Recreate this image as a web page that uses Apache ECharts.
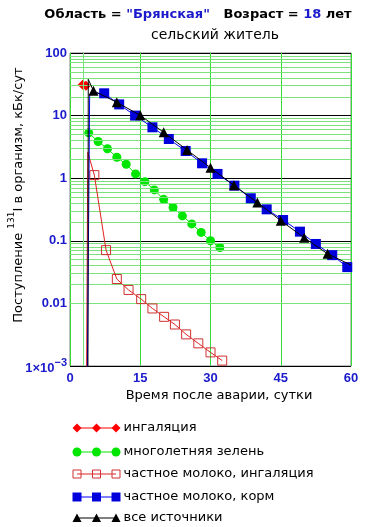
<!DOCTYPE html>
<html>
<head>
<meta charset="utf-8">
<script src="https://cdn.jsdelivr.net/npm/echarts@6/dist/echarts.min.js"></script>
<style>
  html, body { margin: 0; padding: 0; background: #fff; }
  #chart { width: 377px; height: 527px; }
</style>
</head>
<body>
<div id="chart"></div>
<script>
// данные
const seriesNames = ['ингаляция', 'многолетняя зелень', 'частное молоко, ингаляция', 'частное молоко, корм', 'все источники'];

const inhalDays = [2.7, 3.4];
const inhalValues = [31, 30];

const greensDays = [4, 6, 8, 10, 12, 14, 16, 18, 20, 22, 24, 26, 28, 30, 32];
const greensValues = [5.3, 3.85, 2.95, 2.16, 1.67, 1.17, 0.88, 0.65, 0.46, 0.34, 0.25, 0.186, 0.136, 0.1, 0.078];

// участок подъёма без маркеров
const milkInhalLeadDays = [3.4, 3.8];
const milkInhalLeadValues = [0.00001, 2.6];
const milkInhalDays = [5.2, 7.7, 10, 12.5, 15.2, 17.6, 20.1, 22.4, 24.8, 27.4, 30, 32.5];
const milkInhalValues = [1.12, 0.071, 0.0245, 0.0164, 0.0117, 0.0083, 0.0061, 0.0046, 0.0032, 0.0023, 0.00165, 0.00122];

const milkFeedLeadDays = [3.5, 4.2];
const milkFeedLeadValues = [0.00001, 22];
const milkFeedDays = [7.3, 10.5, 13.9, 17.6, 21.1, 24.7, 28.2, 31.5, 35.1, 38.6, 42, 45.5, 49.1, 52.5, 56, 59.2];
const milkFeedValues = [22.7, 15.1, 10, 6.5, 4.23, 2.72, 1.73, 1.17, 0.76, 0.478, 0.318, 0.215, 0.14, 0.089, 0.059, 0.038];

const totalLeadDays = [3.8, 3.9];
const totalLeadValues = [0.00001, 38];
const totalDays = [5, 10, 15, 20, 25, 30, 35, 40, 45, 50, 55];
const totalValues = [25, 16.3, 10.1, 5.4, 2.82, 1.47, 0.77, 0.41, 0.21, 0.112, 0.062];
const totalTailDays = [60];
const totalTailValues = [0.041];

const xTicks = [0, 15, 30, 45, 60];
const yDecades = [0.001, 0.01, 0.1, 1, 10, 100];
const extraVerticalDay = 2.8;

const FONT = 'Liberation Sans, Arial, sans-serif';
const TEXT_FONT = 'DejaVu Sans, sans-serif';
const BLUE_TXT = '#1a1acc';

const pts = (xs, ys) => xs.map((x, i) => [x, ys[i]]);
const bare = (xs, ys) => xs.map((x, i) => ({ value: [x, ys[i]], symbol: 'none' }));

// мелкие линии сетки 2..9 в каждой декаде
const minorLines = [];
for (let d = 0; d < yDecades.length - 1; d++) {
  for (let k = 2; k <= 9; k++) minorLines.push({ yAxis: k * yDecades[d] });
}

const chart = echarts.init(document.getElementById('chart'));

const styles = [
  { color: '#ff0000', symbol: 'diamond', size: 10, line: '#ff0000' },
  { color: '#00e600', symbol: 'circle', size: 9, line: '#00e600' },
  { color: 'rgba(0,0,0,0)', border: '#d03030', symbol: 'rect', size: 9, line: '#e02020' },
  { color: '#0000dd', symbol: 'rect', size: 10, line: '#0000ff' },
  { color: '#000000', symbol: 'triangle', size: 10, line: '#000000' }
];

const seriesData = [
  pts(inhalDays, inhalValues),
  pts(greensDays, greensValues),
  bare(milkInhalLeadDays, milkInhalLeadValues).concat(pts(milkInhalDays, milkInhalValues)),
  bare(milkFeedLeadDays, milkFeedLeadValues).concat(pts(milkFeedDays, milkFeedValues)),
  bare(totalLeadDays, totalLeadValues).concat(pts(totalDays, totalValues), bare(totalTailDays, totalTailValues))
];

const series = [{
  type: 'line',
  data: [],
  silent: true,
  z: 1,
  markLine: {
    silent: true,
    symbol: 'none',
    animation: false,
    label: { show: false },
    lineStyle: { color: '#7ce27c', width: 1, type: 'solid' },
    data: minorLines.concat([{ xAxis: extraVerticalDay }])
  }
}];
styles.forEach((s, i) => {
  series.push({
    name: seriesNames[i],
    type: 'line',
    data: seriesData[i],
    symbol: s.symbol,
    symbolSize: s.size,
    showAllSymbol: true,
    z: 3 + i,
    itemStyle: { color: s.color, borderColor: s.border || s.color, borderWidth: s.border ? 1 : 0 },
    lineStyle: { color: s.line, width: 1 }
  });
});

// легенда из графических элементов
const legendY = [428, 452, 474, 497, 518];
const legendXs = [77, 96.5, 116];
const legendEls = [];
styles.forEach((s, i) => {
  const y = legendY[i];
  legendEls.push({ type: 'line', shape: { x1: legendXs[0], y1: y, x2: legendXs[2], y2: y }, style: { stroke: s.line, lineWidth: 1 } });
  legendXs.forEach(x => {
    let el;
    if (s.symbol === 'diamond') el = { type: 'polygon', shape: { points: [[x, y - 4.5], [x + 4.5, y], [x, y + 4.5], [x - 4.5, y]] }, style: { fill: s.color } };
    else if (s.symbol === 'circle') el = { type: 'circle', shape: { cx: x, cy: y, r: 4.5 }, style: { fill: s.color } };
    else if (s.symbol === 'rect' && s.border) el = { type: 'rect', shape: { x: x - 4, y: y - 4, width: 8, height: 8 }, style: { fill: 'none', stroke: s.border, lineWidth: 1 } };
    else if (s.symbol === 'rect') el = { type: 'rect', shape: { x: x - 4.5, y: y - 4.5, width: 9, height: 9 }, style: { fill: s.color } };
    else el = { type: 'polygon', shape: { points: [[x, y - 4.5], [x + 4.5, y + 4], [x - 4.5, y + 4]] }, style: { fill: s.color } };
    legendEls.push(el);
  });
  legendEls.push({ type: 'text', x: 123.5, y: y, style: { text: seriesNames[i], font: '13px ' + TEXT_FONT, fill: '#000', verticalAlign: 'middle' } });
});

const option = {
  animation: false,
  grid: { left: 70, right: 26, top: 53, bottom: 161, show: true, borderColor: '#808080', borderWidth: 1 },
  xAxis: {
    type: 'value', min: 0, max: 60, interval: 15,
    axisLine: { show: false }, axisTick: { show: false },
    splitLine: { show: true, lineStyle: { color: '#33dd33', width: 1 } },
    axisLabel: {
      color: BLUE_TXT, fontWeight: 'bold', fontSize: 13, fontFamily: FONT, margin: 6,
      formatter: v => xTicks.includes(v) ? String(v) : ''
    }
  },
  yAxis: {
    type: 'log', logBase: 10, min: yDecades[0], max: yDecades[yDecades.length - 1],
    axisLine: { show: false }, axisTick: { show: false },
    splitLine: { show: true, lineStyle: { color: '#000', width: 1 } },
    axisLabel: {
      color: BLUE_TXT, fontWeight: 'bold', fontSize: 13, fontFamily: FONT, margin: 3,
      formatter: v => {
        const e = Math.round(Math.log10(v));
        if (e <= -3) return '{a|1×10}{s|−' + (-e) + '}';
        return e >= 0 ? String(Math.pow(10, e)) : (Math.pow(10, e)).toFixed(-e);
      },
      rich: {
        a: { color: BLUE_TXT, fontWeight: 'bold', fontSize: 13, fontFamily: FONT, lineHeight: 18, verticalAlign: 'bottom' },
        s: { color: BLUE_TXT, fontWeight: 'bold', fontSize: 11, fontFamily: FONT, lineHeight: 18, verticalAlign: 'top' }
      }
    }
  },
  graphic: [
    {
      type: 'text', x: 198, y: 15,
      style: {
        text: '{b|Область = }{q|"Брянская"}{b|   Возраст = }{q|18}{b| лет}',
        align: 'center', verticalAlign: 'middle',
        rich: {
          b: { fill: '#000', font: 'bold 13px ' + TEXT_FONT },
          q: { fill: BLUE_TXT, font: 'bold 13px ' + TEXT_FONT }
        }
      }
    },
    { type: 'text', x: 215, y: 35, style: { text: 'сельский житель', font: '14px ' + TEXT_FONT, fill: '#000', align: 'center', verticalAlign: 'middle' } },
    {
      type: 'text', x: 16, y: 195, rotation: Math.PI / 2,
      style: {
        text: '{n|Поступление }{s|131}{n|I в организм, кБк/сут}',
        align: 'center', verticalAlign: 'middle',
        rich: {
          n: { fill: '#000', font: '13px ' + TEXT_FONT, lineHeight: 18, verticalAlign: 'bottom' },
          s: { fill: '#000', font: '9px ' + TEXT_FONT, lineHeight: 18, verticalAlign: 'top' }
        }
      }
    },
    { type: 'text', x: 219, y: 396, style: { text: 'Время после аварии, сутки', font: '13px ' + TEXT_FONT, fill: '#000', align: 'center', verticalAlign: 'middle' } }
  ].concat(legendEls),
  series: series
};

chart.setOption(option);
</script>
</body>
</html>
